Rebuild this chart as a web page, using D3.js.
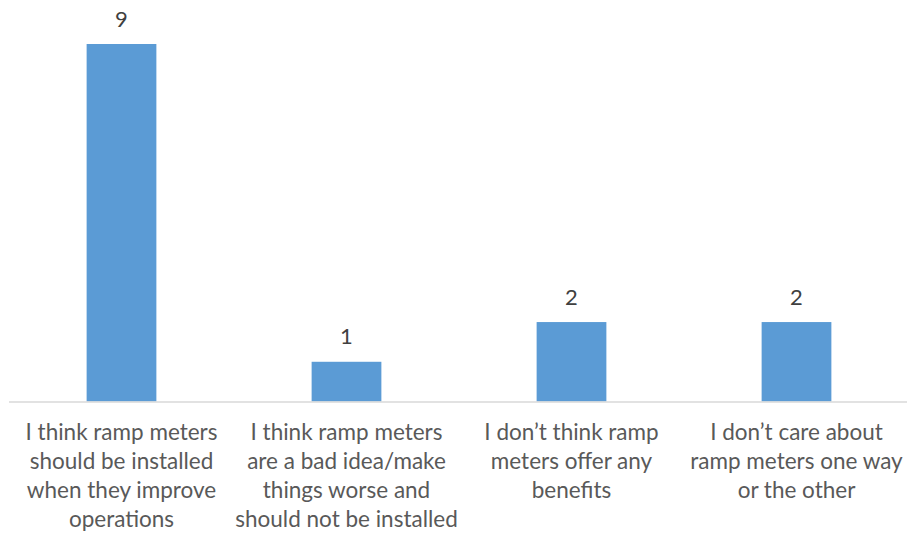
<!DOCTYPE html>
<html>
<head>
<meta charset="utf-8">
<script src="https://cdn.jsdelivr.net/npm/d3@7"></script>
<style>
  body { margin: 0; background: #fff; }
  svg { display: block; }
</style>
</head>
<body>
<div id="chart"></div>
<script>
// category labels (line breaks as in the original)
const categories = [
    "I think ramp meters\nshould be installed\nwhen they improve\noperations",
    "I think ramp meters\nare a bad idea/make\nthings worse and\nshould not be installed",
    "I don\u2019t think ramp\nmeters offer any\nbenefits",
    "I don\u2019t care about\nramp meters one way\nor the other"
];
const counts = [9, 1, 2, 2];

const width = 908;
const height = 533;
const fontFamily = "Lato, 'Open Sans', sans-serif";

const svg = d3.select("#chart").append("svg")
    .attr("width", width)
    .attr("height", height)
    .style("font-family", fontFamily);

const x = d3.scaleBand()
    .domain(categories)
    .range([9, 909])
    .paddingInner(0.69)
    .paddingOuter(0.345);

const y = d3.scaleLinear()
    .domain([0, 9])
    .range([401.5, 44]);

// bars
svg.selectAll("rect.bar")
    .data(counts)
    .join("rect")
    .attr("class", "bar")
    .attr("x", (d, i) => x(categories[i]))
    .attr("width", x.bandwidth())
    .attr("y", d => y(d))
    .attr("height", d => y(0) - y(d))
    .attr("fill", "#5B9BD5");

// axis line
svg.append("line")
    .attr("x1", 9)
    .attr("x2", 907)
    .attr("y1", y(0) + 0.5)
    .attr("y2", y(0) + 0.5)
    .attr("stroke", "#D9D9D9")
    .attr("stroke-width", 1.3);

// value labels
svg.selectAll("text.value")
    .data(counts)
    .join("text")
    .attr("class", "value")
    .attr("x", (d, i) => x(categories[i]) + x.bandwidth() / 2)
    .attr("y", d => y(d) - 17.5)
    .attr("text-anchor", "middle")
    .attr("font-size", 22)
    .attr("fill", "#404040")
    .text(d => d);

// category labels
const labels = svg.selectAll("text.cat")
    .data(categories)
    .join("text")
    .attr("class", "cat")
    .attr("text-anchor", "middle")
    .attr("font-size", 22.5)
    .attr("fill", "#595959");

labels.selectAll("tspan")
    .data(d => d.split("\n").map(t => ({ t, c: d })))
    .join("tspan")
    .attr("x", d => x(d.c) + x.bandwidth() / 2)
    .attr("y", (d, i) => y(0) + 38.5 + i * 29)
    .text(d => d.t);
</script>
</body>
</html>
